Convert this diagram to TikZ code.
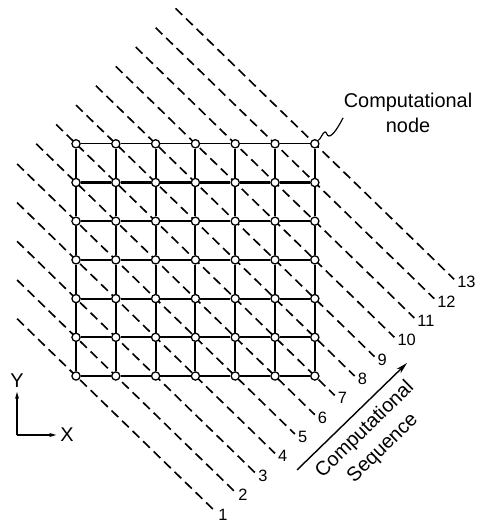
\documentclass[tikz,border=0pt]{standalone}
\usepackage{fontspec}
\setmainfont{Liberation Sans}
\usetikzlibrary{arrows.meta}

\begin{document}
\begin{tikzpicture}[x=1.194cm, y=1.161cm,
	cnode/.style={circle, draw, fill=white, line width=1.1pt, inner sep=0pt, minimum size=7pt},
	gridline/.style={line width=1.8pt},
	seqline/.style={dash pattern=on 8pt off 4.5pt, line width=1.4pt},
	numlabel/.style={anchor=west, inner sep=2pt, yshift=-2.5pt, font=\fontsize{14}{16}\selectfont},
	lettering/.style={font=\fontsize{17}{22}\selectfont},
	axis/.style={line width=1.2pt, -{Stealth[length=6pt,width=3.5pt]}}]
			\useasboundingbox (-1.910,-3.773) rectangle (10.226,9.716);
			
			% computational sequence lines
			\foreach \k in {1,...,13}{
				\pgfmathsetmacro{\xs}{\k<6 ? -1.48 : -1+0.5*(\k-6)}
				\pgfmathsetmacro{\ys}{\k-1-(\xs)}
				\pgfmathsetmacro{\xe}{3+0.5*\k}
				\pgfmathsetmacro{\ye}{\k-1-(\xe)}
				\draw[seqline] (\xs,\ys) -- (\xe,\ye) node[numlabel] (s\k) {\k};
			}
			
			% mesh
			\foreach \i in {0,...,6}
				\foreach \j in {0,...,6}
					\node[cnode] (n-\i-\j) at (\i,\j) {};
			\foreach \j in {0,...,5}
				\foreach \i [count=\ii] in {0,...,5}
					\draw[gridline] (n-\i-\j) -- (n-\ii-\j);
			\foreach \i [count=\ii] in {0,...,5}
				\draw[line width=1pt] (n-\i-6) -- (n-\ii-6);
			\foreach \i in {0,...,6}
				\foreach \j [count=\jj] in {0,...,5}
					\draw[gridline] (n-\i-\j) -- (n-\i-\jj);
			
			\node[lettering, align=center] (cn) at (8.342,6.796) {Computational\\node};
			\coordinate (lead) at (6.71,6.67);
			\draw[line width=1pt] (n-6-6.north east) .. controls (6.15,6.12) and (6.2,6.3) .. (6.256,6.305)
				.. controls (6.3,6.31) and (6.3,6.2) .. (6.357,6.202)
				.. controls (6.45,6.2) and (6.6,6.45) .. (lead);
			
			\coordinate (q0) at (5.553,-2.429);
			\coordinate (q1) at (8.317,0.336);
			\draw[line width=1.2pt, -{Stealth[length=10pt,width=5pt]}] (q0) -- (q1)
				node[midway, below=4pt, sloped, lettering, align=center] (cs) {Computational\\Sequence};
			
			% axes
			\coordinate (o) at (-1.482,-1.525);
			\node[lettering] (ylab) at (-1.482,-0.129) {Y};
			\node[lettering] (xlab) at (-0.226,-1.525) {X};
			\draw[axis] (o) -- (ylab);
			\draw[axis] (o) -- (xlab);
		\end{tikzpicture}
\end{document}
